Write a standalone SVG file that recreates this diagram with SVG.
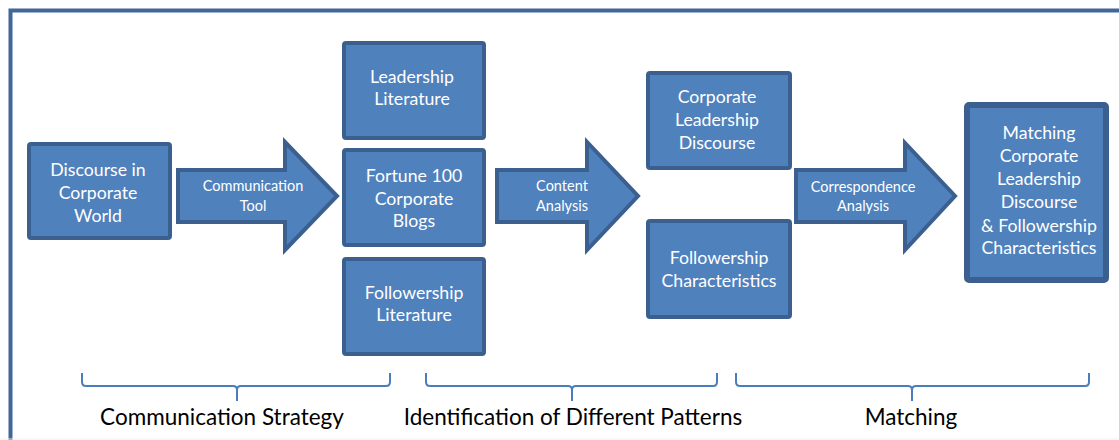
<svg xmlns="http://www.w3.org/2000/svg" width="1119" height="440" viewBox="0 0 1119 440">
  <style>
    .box { fill: #4f81bd; stroke: #3b6090; stroke-width: 4; }
    .arrow { fill: #4f81bd; stroke: #3b6090; stroke-width: 4; stroke-linejoin: miter; }
    .lbl { font-family: Lato, "Liberation Sans", sans-serif; font-size: 17.7px; fill: #ffffff; text-anchor: middle; }
    .small { font-family: Lato, "Liberation Sans", sans-serif; font-size: 14.5px; fill: #ffffff; text-anchor: middle; }
    .phase { font-family: Lato, "Liberation Sans", sans-serif; font-size: 22.5px; fill: #000000; text-anchor: middle; }
    .brace { fill: none; stroke: #4a7ebb; stroke-width: 2; }
  </style>

  <rect width="1119" height="440" fill="#ffffff"/>
  <!-- outer frame (open to the right and bottom) -->
  <path d="M10.5,440 V10.5 H1119" fill="none" stroke="#41669a" stroke-width="4"/>
  <line x1="0" y1="439" x2="1119" y2="439" stroke="#eeeeee" stroke-width="1"/>

  <!-- process arrows -->
  <g id="connectors">
    <g id="arrow-communication-tool">
      <polygon class="arrow" points="178,170 285,170 285,142 337,196 285,250 285,222 178,222"/>
      <text class="small" x="253" y="191">Communication</text>
      <text class="small" x="253" y="211">Tool</text>
    </g>
    <g id="arrow-content-analysis">
      <polygon class="arrow" points="497,170 587,170 587,142 638,196 587,250 587,222 497,222"/>
      <text class="small" x="562" y="191">Content</text>
      <text class="small" x="562" y="211">Analysis</text>
    </g>
    <g id="arrow-correspondence-analysis">
      <polygon class="arrow" points="796,170 905,170 905,143 955,196 905,250 905,222 796,222"/>
      <text class="small" x="863" y="192">Correspondence</text>
      <text class="small" x="863" y="211">Analysis</text>
    </g>
  </g>

  <g id="discourse">
    <rect class="box" x="29" y="144" width="141" height="94" rx="2"/>
    <text class="lbl" x="98" y="176">Discourse in</text>
    <text class="lbl" x="98" y="199">Corporate</text>
    <text class="lbl" x="98" y="222">World</text>
  </g>

  <g id="leadership-literature">
    <rect class="box" x="344" y="43" width="140" height="95" rx="2"/>
    <text class="lbl" x="412" y="83">Leadership</text>
    <text class="lbl" x="412" y="105">Literature</text>
  </g>

  <g id="fortune-blogs">
    <rect class="box" x="344" y="150" width="140" height="95" rx="2"/>
    <text class="lbl" x="414" y="182">Fortune 100</text>
    <text class="lbl" x="414" y="205">Corporate</text>
    <text class="lbl" x="414" y="227">Blogs</text>
  </g>

  <g id="followership-literature">
    <rect class="box" x="344" y="259" width="140" height="95" rx="2"/>
    <text class="lbl" x="414" y="299">Followership</text>
    <text class="lbl" x="414" y="321">Literature</text>
  </g>

  <g id="corporate-leadership-discourse">
    <rect class="box" x="648" y="73" width="142" height="95" rx="2"/>
    <text class="lbl" x="717" y="103">Corporate</text>
    <text class="lbl" x="717" y="126">Leadership</text>
    <text class="lbl" x="717" y="149">Discourse</text>
  </g>

  <g id="followership-characteristics">
    <rect class="box" x="648" y="221" width="142" height="96" rx="2"/>
    <text class="lbl" x="719" y="264">Followership</text>
    <text class="lbl" x="719" y="287">Characteristics</text>
  </g>

  <g id="matching-result">
    <rect class="box" x="967" y="105" width="139" height="175" rx="2" style="stroke-width:6"/>
    <text class="lbl" x="1039" y="139">Matching</text>
    <text class="lbl" x="1039" y="162">Corporate</text>
    <text class="lbl" x="1039" y="185">Leadership</text>
    <text class="lbl" x="1039" y="208">Discourse</text>
    <text class="lbl" x="1039" y="232">&amp; Followership</text>
    <text class="lbl" x="1039" y="254">Characteristics</text>
  </g>

  <!-- phase braces and captions -->
  <g id="phases">
    <path class="brace" d="M82,373 V382 Q82,386 86,386 H233 Q237,386 237,390 V401 M237,390 Q237,386 241,386 H386 Q390,386 390,382 V373"/>
    <path class="brace" d="M426,373 V382 Q426,386 430,386 H568 Q572,386 572,390 V401 M572,390 Q572,386 576,386 H713 Q717,386 717,382 V373"/>
    <path class="brace" d="M736,373 V382 Q736,386 740,386 H908 Q912,386 912,390 V401 M912,390 Q912,386 916,386 H1085 Q1089,386 1089,382 V373"/>
    <text class="phase" x="222" y="425">Communication Strategy</text>
    <text class="phase" x="573" y="425">Identification of Different Patterns</text>
    <text class="phase" x="911" y="425">Matching</text>
  </g>
</svg>
